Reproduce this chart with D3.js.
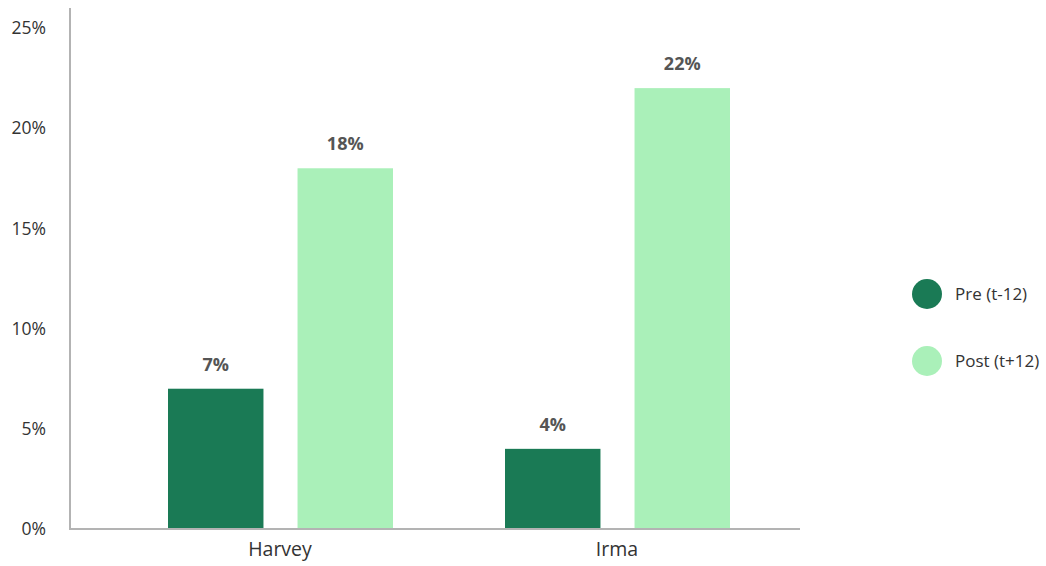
<!DOCTYPE html>
<html>
<head>
<meta charset="utf-8">
<script src="https://cdn.jsdelivr.net/npm/d3@7"></script>
<style>
  body { margin: 0; background: #fff; }
  text { font-family: "Open Sans", "Noto Sans", sans-serif; }
</style>
</head>
<body>
<div id="container"></div>
<script>
// data
var categories = ["Harvey", "Irma"];
var seriesNames = ["Pre (t-12)", "Post (t+12)"];
var preValues = [7, 4];
var postValues = [18, 22];
var yTicks = [0, 5, 10, 15, 20, 25];

var colors = ["#1a7a55", "#aaf0b9"];

var width = 1046, height = 566;

var svg = d3.select("#container").append("svg")
    .attr("width", width)
    .attr("height", height);

var rows = categories.map(function(c, i) {
  return { cat: c, vals: [preValues[i], postValues[i]] };
});

var y = d3.scaleLinear().domain([0, 25]).range([529, 28]);

var x0 = d3.scaleBand().domain(categories).range([111.5, 785.5]);
var x1 = d3.scaleBand().domain(d3.range(seriesNames.length))
    .range([56.5, 281.5]).paddingInner(0.263);

// y axis
var yAxis = svg.append("g").attr("transform", "translate(70,0)")
    .call(d3.axisLeft(y).tickValues(yTicks).tickSize(0).tickPadding(24)
      .tickFormat(function(d) { return d + "%"; }));
yAxis.select(".domain").remove();
yAxis.selectAll("text")
    .attr("fill", "#333")
    .style("font-size", "17.5px");
svg.append("line")
    .attr("x1", 70).attr("x2", 70)
    .attr("y1", 8).attr("y2", 530)
    .attr("stroke", "#b3b3b3").attr("stroke-width", 2);

// bars
var group = svg.append("g").selectAll("g")
    .data(rows).enter().append("g")
    .attr("transform", function(d) { return "translate(" + x0(d.cat) + ",0)"; });

group.selectAll("rect")
    .data(function(d) { return d.vals; })
    .enter().append("rect")
    .attr("x", function(d, i) { return x1(i); })
    .attr("width", x1.bandwidth())
    .attr("y", function(d) { return y(d); })
    .attr("height", function(d) { return y(0) - y(d); })
    .attr("fill", function(d, i) { return colors[i]; });

group.selectAll("text")
    .data(function(d) { return d.vals; })
    .enter().append("text")
    .attr("x", function(d, i) { return x1(i) + x1.bandwidth() / 2; })
    .attr("y", function(d) { return y(d) - 18; })
    .attr("text-anchor", "middle")
    .attr("fill", "#555")
    .style("font-size", "18px")
    .style("font-weight", "bold")
    .text(function(d) { return d + "%"; });

// x axis
var xAxis = svg.append("g").attr("transform", "translate(0,529)")
    .call(d3.axisBottom(x0).tickSize(0).tickPadding(13));
xAxis.select(".domain").remove();
xAxis.selectAll("text")
    .attr("fill", "#333")
    .style("font-size", "19.5px");
svg.append("line")
    .attr("x1", 69).attr("x2", 800)
    .attr("y1", 529).attr("y2", 529)
    .attr("stroke", "#b3b3b3").attr("stroke-width", 2);

// legend
var legend = svg.append("g").selectAll("g")
    .data(seriesNames).enter().append("g")
    .attr("transform", function(d, i) { return "translate(927," + (294 + i * 67) + ")"; });
legend.append("circle")
    .attr("r", 15)
    .attr("fill", function(d, i) { return colors[i]; });
legend.append("text")
    .attr("x", 28)
    .attr("dy", "0.35em")
    .attr("fill", "#333")
    .style("font-size", "17px")
    .text(function(d) { return d; });
</script>
</body>
</html>
